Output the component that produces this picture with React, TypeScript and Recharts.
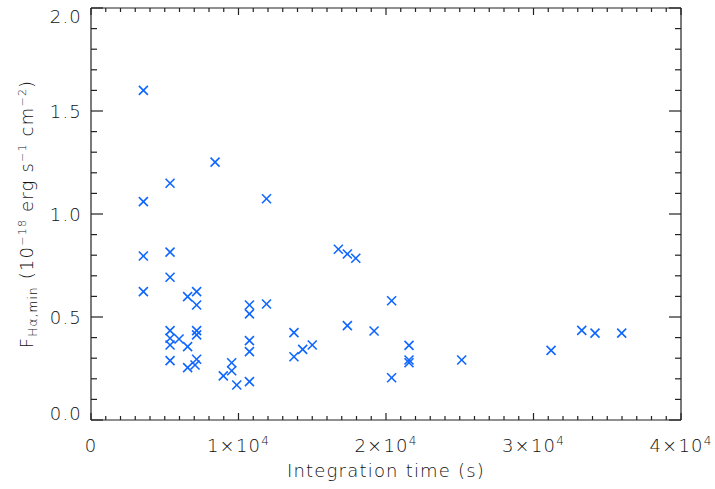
import { Scatter, ScatterChart, XAxis, YAxis } from "recharts";

// integration time (s) and minimum detectable Hα flux (1e-18 erg/s/cm2)
const integrationTime = [
  3550, 3550, 3550, 3550, 5360, 5360, 5360, 5360, 5360, 5360, 5360, 5970,
  6550, 6550, 6550, 7160, 7160, 7160, 7160, 7160, 7050, 8410, 8970, 9540,
  9540, 9880, 10740, 10740, 10740, 10740, 10740, 11900, 11900, 13760, 13760,
  14350, 15000, 16770, 17380, 17380, 17950, 19190, 20380, 20380, 21560, 21560,
  21560, 25130, 31190, 33270, 34170, 35980,
];
const fluxMin = [
  1.6, 1.06, 0.796, 0.623, 1.149, 0.815, 0.693, 0.434, 0.397, 0.364, 0.288,
  0.393, 0.599, 0.356, 0.254, 0.623, 0.558, 0.434, 0.413, 0.295, 0.267, 1.252,
  0.214, 0.278, 0.239, 0.17, 0.558, 0.515, 0.385, 0.332, 0.186, 1.074, 0.563,
  0.424, 0.307, 0.343, 0.364, 0.829, 0.806, 0.458, 0.785, 0.432, 0.579, 0.205,
  0.362, 0.291, 0.278, 0.291, 0.338, 0.435, 0.422, 0.422,
];

const xMajor = [0, 10000, 20000, 30000, 40000];
const xMajorExp = ["", "1", "2", "3", "4"];
const yMajor = [0, 0.5, 1, 1.5, 2];

const xTicks = Array.from({ length: 41 }, (_, i) => i * 1000);
const yTicks = Array.from({ length: 21 }, (_, i) => i / 10);

const data = integrationTime.map((t, i) => ({ t, f: fluxMin[i] }));

const AXIS = "#222";
const TEXT = "#111";
const BLUE = "#0f66ff";
const FONT = "DejaVu Sans";
const txt = { fontSize: 18, fontFamily: FONT, fontWeight: 300, fill: TEXT, letterSpacing: 1.2 };

function XTick({ x, y, payload, top }: any) {
  const v = payload.value;
  const idx = xMajor.indexOf(v);
  const len = idx >= 0 ? 7 : 4;
  return (
    <g>
      <line x1={x} x2={x} y1={y} y2={top ? y + len : y - len} stroke={AXIS} strokeWidth={1.2} />
      {!top && idx >= 0 && (
        <text x={x} y={y + 32} textAnchor="middle" {...txt}>
          {idx === 0 ? (
            "0"
          ) : (
            <>
              {xMajorExp[idx]}×10
              <tspan dy={-7} fontSize={12}>4</tspan>
            </>
          )}
        </text>
      )}
    </g>
  );
}

function YTick({ x, y, payload, right }: any) {
  const v = payload.value;
  const major = yMajor.some((m) => Math.abs(m - v) < 1e-6);
  const len = major ? 12 : 6;
  let shift = 6.5;
  if (Math.abs(v - 2) < 1e-6) shift = 14.5;
  if (Math.abs(v) < 1e-6) shift = -0.5;
  return (
    <g>
      <line x1={x} x2={right ? x - len : x + len} y1={y} y2={y} stroke={AXIS} strokeWidth={1.2} />
      {!right && major && (
        <text x={x - 9} y={y + shift} textAnchor="end" {...txt}>
          {v.toFixed(1)}
        </text>
      )}
    </g>
  );
}

function XTitle({ viewBox }: any) {
  const cx = viewBox.x + viewBox.width / 2;
  return (
    <text x={cx} y={477} textAnchor="middle" {...txt}>
      Integration time (s)
    </text>
  );
}

function YTitle({ viewBox }: any) {
  const cx = 33;
  const cy = viewBox.y + viewBox.height / 2;
  return (
    <text x={cx} y={cy} transform={`rotate(-90, ${cx}, ${cy})`} textAnchor="middle" {...txt}>
      F
      <tspan dy={4} fontSize={12}>Hα,min</tspan>
      <tspan dy={-4}>{"  (10"}</tspan>
      <tspan dy={-7} fontSize={11}>−18</tspan>
      <tspan dy={7}>{" erg s"}</tspan>
      <tspan dy={-7} fontSize={11}>−1</tspan>
      <tspan dy={7}>{"  cm"}</tspan>
      <tspan dy={-7} fontSize={11}>−2</tspan>
      <tspan dy={7}>)</tspan>
    </text>
  );
}

function Cross({ cx, cy }: any) {
  const r = 4.5;
  return (
    <g stroke={BLUE} strokeWidth={1.6}>
      <line x1={cx - r} y1={cy - r} x2={cx + r} y2={cy + r} />
      <line x1={cx - r} y1={cy + r} x2={cx + r} y2={cy - r} />
    </g>
  );
}

const axisLine = { stroke: AXIS, strokeWidth: 1.2 };

export default function App() {
  return (
    <div style={{ position: "absolute", left: 0, top: 0, background: "#fff" }}>
      <ScatterChart width={715} height={489} margin={{ top: 7, right: 33, bottom: 0, left: 0 }}>
        <XAxis
          xAxisId="b"
          dataKey="t"
          type="number"
          domain={[0, 40000]}
          ticks={xTicks}
          interval={0}
          tickSize={0}
          tickMargin={0}
          tickLine={false}
          axisLine={axisLine}
          height={69}
          tick={<XTick />}
          label={<XTitle />}
        />
        <XAxis
          xAxisId="t"
          dataKey="t"
          orientation="top"
          type="number"
          domain={[0, 40000]}
          ticks={xTicks}
          interval={0}
          tickSize={0}
          tickMargin={0}
          tickLine={false}
          axisLine={axisLine}
          height={1}
          tick={<XTick top />}
        />
        <YAxis
          yAxisId="l"
          dataKey="f"
          type="number"
          domain={[0, 2]}
          ticks={yTicks}
          interval={0}
          tickSize={0}
          tickMargin={0}
          tickLine={false}
          axisLine={axisLine}
          width={91}
          tick={<YTick />}
          label={<YTitle />}
        />
        <YAxis
          yAxisId="r"
          dataKey="f"
          orientation="right"
          type="number"
          domain={[0, 2]}
          ticks={yTicks}
          interval={0}
          tickSize={0}
          tickMargin={0}
          tickLine={false}
          axisLine={axisLine}
          width={1}
          tick={<YTick right />}
        />
        {/* invisible copy so the top/right frame axes get drawn */}
        <Scatter
          data={data}
          xAxisId="t"
          yAxisId="r"
          shape={() => <g />}
          isAnimationActive={false}
        />
        <Scatter
          data={data}
          xAxisId="b"
          yAxisId="l"
          shape={<Cross />}
          isAnimationActive={false}
        />
      </ScatterChart>
    </div>
  );
}
